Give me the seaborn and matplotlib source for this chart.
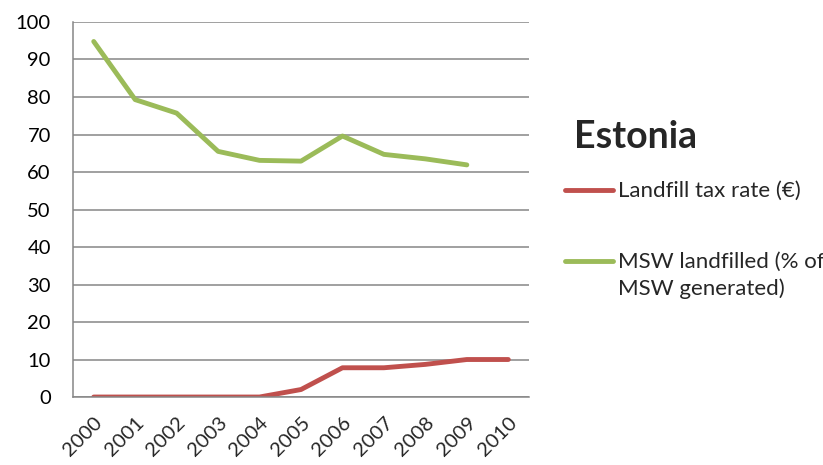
import matplotlib
matplotlib.use("Agg")
import matplotlib.pyplot as plt
from matplotlib.lines import Line2D
from matplotlib.ticker import FixedLocator
import pandas as pd
import seaborn as sns

# ------------------------------------------------------
# Data
# ------------------------------------------------------
years = ["2000", "2001", "2002", "2003", "2004", "2005",
         "2006", "2007", "2008", "2009", "2010"]
tax_rate = [0, 0, 0, 0, 0, 2.0, 7.8, 7.8, 8.7, 10, 10]
landfilled = [94.8, 79.3, 75.7, 65.5, 63.1, 62.9, 69.6, 64.7, 63.5, 61.9]

tax_label = "Landfill tax rate (€)"
msw_label = "MSW landfilled (% of\nMSW generated)"
title = "Estonia"

red = "#C0504D"
green = "#9BBB59"
grid_col = "#868686"

# long table for seaborn
df = pd.concat([
    pd.DataFrame({"pos": range(len(tax_rate)), "value": tax_rate, "series": tax_label}),
    pd.DataFrame({"pos": range(len(landfilled)), "value": landfilled, "series": msw_label}),
])

sns.set_style("white")
plt.rcParams["font.family"] = ["Lato", "DejaVu Sans"]

fig = plt.figure(figsize=(8.23, 4.65), dpi=100)
ax = fig.add_axes([0.0887, 0.1462, 0.5541, 0.8065])

sns.lineplot(data=df, x="pos", y="value", hue="series",
             palette={tax_label: red, msw_label: green},
             linewidth=3.5, ax=ax, legend=False)

ax.set_xlim(-0.5, len(years) - 0.5)
ax.set_ylim(0, 100)
ax.set_yticks(range(0, 101, 10))
ax.yaxis.grid(True, color=grid_col, linewidth=1.1)
ax.set_axisbelow(True)
ax.tick_params(axis="y", length=6, color=grid_col, width=1.1,
               labelsize=14.5, pad=10, labelcolor="black")

# labels at category centres, tick marks at boundaries
ax.set_xticks(range(len(years)))
ax.set_xticklabels(years, rotation=45, ha="right", rotation_mode="anchor")
ax.tick_params(axis="x", which="major", length=0, labelsize=14.5, pad=12)
ax.xaxis.set_minor_locator(FixedLocator([i - 0.5 for i in range(len(years) + 1)]))
ax.tick_params(axis="x", which="minor", length=6, color=grid_col, width=1.1)

for s in ["top", "right"]:
    ax.spines[s].set_visible(False)
for s in ["left", "bottom"]:
    ax.spines[s].set_color(grid_col)
    ax.spines[s].set_linewidth(1.1)
ax.set_xlabel("")
ax.set_ylabel("")

fig.text(0.698, 0.705, title, fontsize=27, fontweight="bold", va="center", ha="left")

# legend drawn by hand so the green key sits on the first label line
# (va="baseline" puts the last line's baseline at ybase)
for col, lab, y, ybase in [(red, tax_label, 0.5914, 0.577),
                           (green, msw_label, 0.4387, 0.3656)]:
    fig.add_artist(Line2D([0.6865, 0.7448], [y, y], color=col, linewidth=3.5,
                          solid_capstyle="round", transform=fig.transFigure))
    fig.text(0.751, ybase, lab, fontsize=16, va="baseline", ha="left",
             linespacing=1.4)

fig.savefig("out.png", dpi=100)
